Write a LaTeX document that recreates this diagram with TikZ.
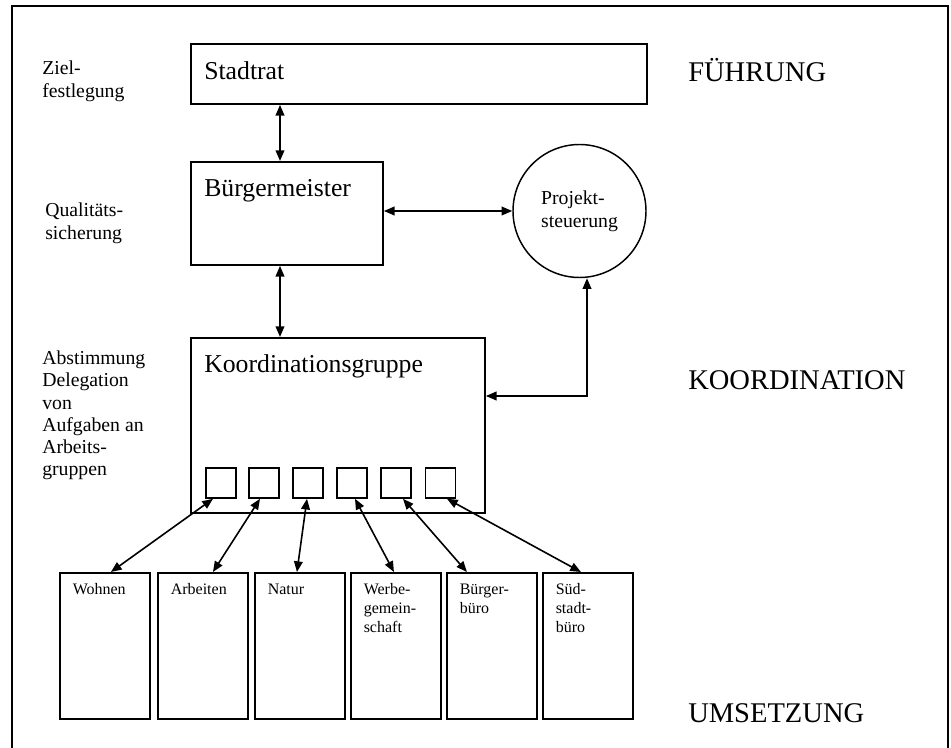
\documentclass[tikz,border=0pt]{standalone}
\usepackage{fontspec}
\setmainfont{Liberation Serif}
\usetikzlibrary{arrows.meta,calc}
\begin{document}
\begin{tikzpicture}[x=0.75pt,y=-0.75pt,
  box/.style={draw,line width=1.4pt,rectangle,inner sep=0pt,anchor=north west},
  sq/.style={draw,line width=1.2pt,rectangle,inner sep=0pt,minimum size=22.5pt},
  wbox/.style={box,minimum width=67.5pt,minimum height=109.5pt},
  title/.style={inner sep=0pt,anchor=base west,font=\fontsize{19.3pt}{23pt}\selectfont},
  side/.style={inner sep=0pt,anchor=base west,align=left,font=\fontsize{14.8pt}{17.25pt}\selectfont},
  small/.style={inner sep=0pt,anchor=base west,align=left,font=\fontsize{12pt}{14.25pt}\selectfont},
  level/.style={inner sep=0pt,anchor=base west,font=\fontsize{21.4pt}{25pt}\selectfont},
  arr/.style={line width=1.2pt,{Triangle[length=8pt,width=6.5pt]}-{Triangle[length=8pt,width=6.5pt]}}]
\useasboundingbox (0,0) rectangle (951,748);

% outer frame, open at the bottom
\draw[line width=1.1pt] (12,748) -- (12,6) -- (948,6) -- (948,748);

% main boxes
\node[box,minimum width=342pt,minimum height=45pt] (sr) at (190,43) {};
\node[title] (srt) at (204,80) {Stadtrat};
\node[box,minimum width=144pt,minimum height=77.25pt] (bm) at (190,161) {};
\node[title] (bmt) at (204,197) {Bürgermeister};
\node[box,minimum width=220.5pt,minimum height=131.25pt] (kg) at (190,337) {};
\node[title] (kgt) at (204,373) {Koordinationsgruppe};
\node[draw,circle,line width=1.1pt,minimum size=99.75pt,inner sep=0pt,align=left,
      font=\fontsize{14.8pt}{17.5pt}\selectfont] (ps) at (579.5,211) {Projekt-\\steuerung};

% working-group slots inside the coordination box
\foreach \x [count=\i] in {221,264,308,352,396,440.5}
  \node[sq] (q\i) at (\x,483) {};

% working groups (text anchored at the baseline of its last line)
\foreach \x/\y/\t [count=\i] in {59/595/Wohnen,157/595/Arbeiten,254/595/Natur,
    350/633/{Werbe-\\gemein-\\schaft},446/614/{Bürger-\\büro},542/633/{Süd-\\stadt-\\büro}}{
  \node[wbox] (w\i) at (\x,572) {};
  \node[small] (wt\i) at (\x+13.5,\y) {\t};
}

% side notes (anchored at the baseline of their last line)
\node[side] (n1) at (42,98) {Ziel-\\festlegung};
\node[side] (n2) at (45,240) {Qualitäts-\\sicherung};
\node[side,font=\fontsize{14.8pt}{16.7pt}\selectfont] (n3) at (42,476)
  {Abstimmung\\Delegation\\von\\Aufgaben an\\Arbeits-\\gruppen};

% levels
\node[level] (l1) at (688,82) {FÜHRUNG};
\node[level] (l2) at (688,390) {KOORDINATION};
\node[level] (l3) at (688,723) {UMSETZUNG};

% connectors
\coordinate (xa) at (280,0);
\draw[arr] (sr.south -| xa) -- (bm.north -| xa);
\draw[arr] (bm.south -| xa) -- (kg.north -| xa);
\draw[arr] (bm.east |- ps.west) -- (ps.west);
\coordinate (bend) at (587,396);
\draw[arr] (kg.east |- bend) -- (bend) -- (bend |- ps.south);
\foreach \i/\a/\b in {1/-8/6,2/-4/10,3/-1/-3,4/3/-2,5/7/-25,6/6.5/-7}
  \draw[arr] ($(q\i.south)+(\a,0)$) -- ($(w\i.north)+(\b,0)$);
\end{tikzpicture}
\end{document}
